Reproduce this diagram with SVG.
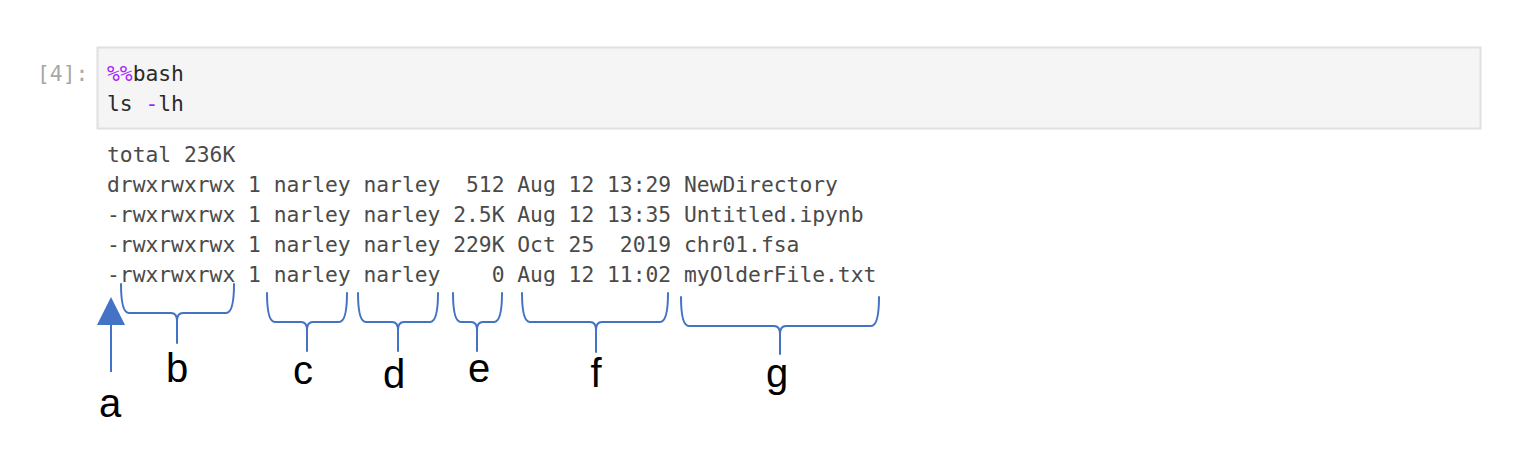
<svg xmlns="http://www.w3.org/2000/svg" width="1524" height="453" viewBox="0 0 1524 453">
<style>
.mono{font-family:"DejaVu Sans Mono","Liberation Mono",monospace;font-size:21.3px;white-space:pre}
.out{fill:#4a4a4a}
.code{fill:#2a2a2a}
.mag{fill:#aa22ff}
.prompt{fill:#a8a8a8}
.lbl{font-family:"Liberation Sans","Open Sans",sans-serif;font-size:40px;fill:#000;text-anchor:middle}
.brace{fill:none;stroke:#4472c4;stroke-width:2;stroke-linejoin:round;stroke-linecap:round}
</style>
<rect width="1524" height="453" fill="#fff"/>
<g id="cell">
<rect x="97.5" y="47.5" width="1383" height="81" fill="#f5f5f5" stroke="#e0e0e0" stroke-width="2"/>
<text class="mono prompt" x="37" y="81" xml:space="preserve">[4]:</text>
<text class="mono code" x="107" y="81" xml:space="preserve"><tspan class="mag">%%</tspan>bash</text>
<text class="mono code" x="107" y="111" xml:space="preserve">ls <tspan class="mag">-</tspan>lh</text>
</g>
<g id="output" class="mono out">
<text x="107" y="162" xml:space="preserve">total 236K</text>
<text x="107" y="192" xml:space="preserve">drwxrwxrwx 1 narley narley  512 Aug 12 13:29 NewDirectory</text>
<text x="107" y="222" xml:space="preserve">-rwxrwxrwx 1 narley narley 2.5K Aug 12 13:35 Untitled.ipynb</text>
<text x="107" y="252" xml:space="preserve">-rwxrwxrwx 1 narley narley 229K Oct 25  2019 chr01.fsa</text>
<text x="107" y="282" xml:space="preserve">-rwxrwxrwx 1 narley narley    0 Aug 12 11:02 myOlderFile.txt</text>
</g>
<g id="connectors">
<line x1="111" y1="372" x2="111" y2="324" stroke="#4472c4" stroke-width="2"/>
<polygon points="111,297 97,325 125,325" fill="#4472c4"/>
<path class="brace" d="M121,284 Q121,313 129,313 L171,313 Q177,313 177,321 L177,343 M177,321 Q177,313 183,313 L226,313 Q234,313 234,284"/>
<path class="brace" d="M267,293 Q267,322 275,322 L301,322 Q307,322 307,330 L307,351 M307,330 Q307,322 313,322 L339,322 Q347,322 347,293"/>
<path class="brace" d="M358,293 Q358,322 366,322 L392,322 Q398,322 398,330 L398,351 M398,330 Q398,322 404,322 L430,322 Q438,322 438,293"/>
<path class="brace" d="M453,293 Q453,322 461,322 L471,322 Q477,322 477,330 L477,351 M477,330 Q477,322 483,322 L494,322 Q502,322 502,293"/>
<path class="brace" d="M522,293 Q522,322 530,322 L590,322 Q596,322 596,330 L596,352 M596,330 Q596,322 602,322 L660,322 Q668,322 668,293"/>
<path class="brace" d="M681,297 Q681,326 689,326 L774,326 Q780,326 780,334 L780,354 M780,334 Q780,326 786,326 L871,326 Q879,326 879,297"/>
</g>
<g id="labels">
<g id="label-a"><text class="lbl" x="110" y="417">a</text></g>
<g id="label-b"><text class="lbl" x="177" y="382">b</text></g>
<g id="label-c"><text class="lbl" x="303" y="384">c</text></g>
<g id="label-d"><text class="lbl" x="394" y="388">d</text></g>
<g id="label-e"><text class="lbl" x="479" y="382">e</text></g>
<g id="label-f"><text class="lbl" x="596" y="387">f</text></g>
<g id="label-g"><text class="lbl" x="777" y="387">g</text></g>
</g>
</svg>
